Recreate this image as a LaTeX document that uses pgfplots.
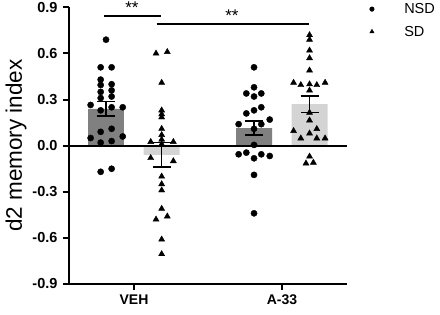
\documentclass[border=0pt]{standalone}
\usepackage{pgfplots}
\usepackage{pgfplotstable}
\pgfplotsset{compat=1.18}
\usepackage{fontspec}
\setmainfont{Liberation Sans}

\definecolor{nsdgray}{RGB}{128,128,128}
\definecolor{sdgray}{RGB}{212,212,212}

% group means and SEM (VEH: x=1, A-33: x=2)
\pgfplotstableread{
x      y      err
0.811  0.240  0.047
1.811  0.115  0.047
}\nsdmean
\pgfplotstableread{
x      y      err
1.187  -0.060 0.080
2.186  0.270  0.054
}\sdmean

% individual animals
\pgfplotstableread{
x     y
0.811 0.69
0.775 0.51
0.849 0.51
0.775 0.43
0.775 0.395
0.849 0.40
0.775 0.35
0.849 0.36
0.775 0.31
0.849 0.32
0.707 0.265
0.924 0.25
0.775 0.23
0.849 0.25
0.775 0.09
0.849 0.11
0.707 0.05
0.924 0.06
0.775 0.02
0.849 0.03
0.775 -0.17
0.849 -0.15
1.811 0.51
1.811 0.38
1.759 0.34
1.860 0.34
1.811 0.32
1.811 0.23
1.860 0.25
1.759 0.21
1.707 0.14
1.917 0.17
1.860 0.14
1.811 0.11
1.811 0.005
1.707 -0.056
1.759 -0.045
1.811 -0.082
1.860 -0.056
1.917 -0.067
1.811 -0.19
1.811 -0.44
}\nsdpts
\pgfplotstableread{
x     y
1.149 0.60
1.225 0.61
1.187 0.41
1.187 0.23
1.187 0.205
1.187 0.185
1.187 0.11
1.187 0.07
1.187 0.04
1.113 0.025
1.266 0.025
1.187 0.01
1.113 -0.08
1.266 -0.10
1.187 -0.20
1.187 -0.25
1.187 -0.29
1.187 -0.41
1.149 -0.48
1.225 -0.46
1.187 -0.61
1.187 -0.705
2.186 0.72
2.186 0.69
2.186 0.62
2.186 0.57
2.186 0.49
2.078 0.41
2.127 0.395
2.186 0.40
2.235 0.395
2.291 0.41
2.186 0.36
2.186 0.215
2.186 0.165
2.078 0.096
2.186 0.08
2.235 0.109
2.127 0.048
2.235 0.048
2.291 0.048
2.186 -0.07
2.162 -0.115
2.212 -0.11
}\sdpts

\begin{document}
\begin{tikzpicture}
\begin{axis}[
  name=ax,
  scale only axis,
  width=278pt, height=276.6pt,
  xmin=0.561, xmax=2.439,
  ymin=-0.9, ymax=0.9,
  axis x line*=bottom, axis y line*=left,
  axis line style={-, line width=2pt, black},
  xtick={1,2}, xticklabels={VEH, A-33},
  ytick={-0.9,-0.6,-0.3,0,0.3,0.6,0.9},
  yticklabel style={/pgf/number format/fixed, /pgf/number format/fixed zerofill,
    /pgf/number format/precision=1},
  /pgf/number format/assume math mode=true,
  tick align=outside,
  major tick length=6pt,
  tick style={black, line width=2pt},
  x tick label style={font=\bfseries\fontsize{14}{16}\selectfont, yshift=-1pt},
  y tick label style={font=\bfseries\fontsize{14.5}{16}\selectfont, xshift=-2pt},
  ylabel={d2 memory index},
  ylabel style={font=\fontsize{22.5}{24}\selectfont, at={(axis description cs:-0.19,0.5)}, anchor=center},
  clip=false,
  legend cell align=left,
  legend style={at={(1.07,1.03)}, anchor=north west, draw=none, fill=none,
    font=\fontsize{14.5}{16}\selectfont, row sep=7pt, column sep=28pt},
]
% bars
\addplot[ybar, bar width=0.243, bar shift=0pt, fill=nsdgray, draw=none, forget plot]
  table[x=x, y=y] {\nsdmean};
\addplot[ybar, bar width=0.243, bar shift=0pt, fill=sdgray, draw=none, forget plot]
  table[x=x, y=y] {\sdmean};
% animals
\addplot[only marks, mark=*, mark size=3.1pt, black, legend image post style={mark size=2.3pt}]
  table[x=x, y=y] {\nsdpts};
\addlegendentry{NSD}
\addplot[only marks, mark=triangle*, mark size=3.5pt, black, legend image post style={mark size=2.5pt}]
  table[x=x, y=y] {\sdpts};
\addlegendentry{SD}
% mean +/- SEM
\addplot[draw=none, mark=none, forget plot,
  error bars/.cd, y dir=both, y explicit,
  error bar style={black, line width=1.5pt},
  error mark options={rotate=90, black, line width=1.5pt, mark size=9pt}]
  table[x=x, y=y, y error=err] {\nsdmean};
\addplot[draw=none, mark=none, forget plot,
  error bars/.cd, y dir=both, y explicit,
  error bar style={black, line width=1.5pt},
  error mark options={rotate=90, black, line width=1.5pt, mark size=9pt}]
  table[x=x, y=y, y error=err] {\sdmean};
% zero line
\addplot[black, line width=2pt, forget plot] coordinates {(0.561,0) (2.439,0)};
% significance brackets
\addplot[black, line width=2.3pt, forget plot] coordinates {(0.800,0.846) (1.182,0.846)};
\addplot[black, line width=2.3pt, forget plot] coordinates {(1.153,0.792) (2.182,0.792)};
\node[anchor=base, font=\fontsize{17}{18}\selectfont, inner sep=0pt] at (axis cs:0.986,0.862) {**};
\node[anchor=base, font=\fontsize{17}{18}\selectfont, inner sep=0pt] at (axis cs:1.662,0.808) {**};
\end{axis}
\pgfresetboundingbox
\path (ax.south west) ++(-69pt,-31pt) rectangle ++(440pt,315pt);
\end{tikzpicture}
\end{document}
